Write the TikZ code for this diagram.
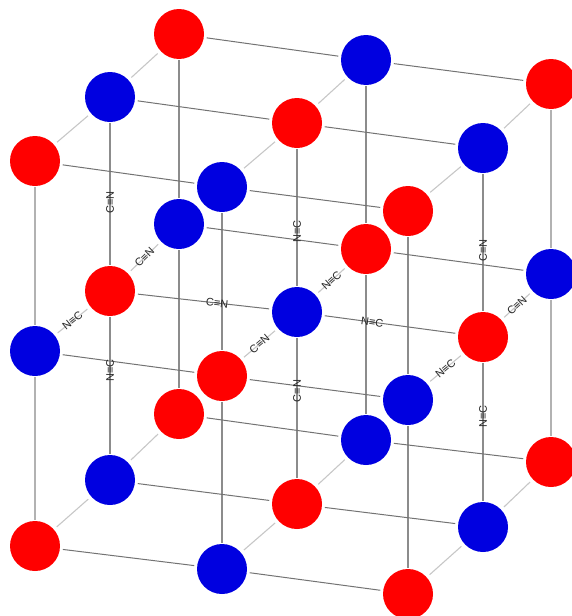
\documentclass[tikz,border=0pt]{standalone}
\usepackage{fontspec}
\setmainfont{Liberation Sans}
\usetikzlibrary{backgrounds}
\definecolor{atomred}{HTML}{FF0000}
\definecolor{atomblue}{HTML}{0000E0}
\tikzset{
  atom/.style={circle,minimum size=50pt,inner sep=0pt,outer sep=0pt},
  redatom/.style={atom,fill=atomred},
  blueatom/.style={atom,fill=atomblue},
  vbond/.style={draw=black!45,line width=1.1pt,shorten >=1pt,shorten <=1pt},
  outerbond/.style={draw=black!30,line width=1.1pt,shorten >=1pt,shorten <=1pt},
  hbond/.style={draw=black!55,line width=1pt,shorten >=3pt,shorten <=3pt},
  dbond/.style={draw=black!22,line width=1.1pt,shorten >=4pt,shorten <=4pt},
  bondlabel/.style={font=\fontsize{11}{11}\selectfont,text=black!85,inner sep=0pt,sloped}
}
\begin{document}
\begin{tikzpicture}[x=1pt,y=-1pt]
\useasboundingbox (0,0) rectangle (571,616);
% back row
\node[redatom]  (n111) at (179,34) {};
\node[blueatom] (n112) at (366,60) {};
\node[redatom]  (n113) at (551,84) {};
\node[blueatom] (n211) at (179,224) {};
\node[redatom]  (n212) at (366,249) {};
\node[blueatom] (n213) at (551,274) {};
\node[redatom]  (n311) at (179,414) {};
\node[blueatom] (n312) at (366,440) {};
\node[redatom]  (n313) at (551,462) {};
% middle row
\node[blueatom] (n121) at (110,97) {};
\node[redatom]  (n122) at (297,123) {};
\node[blueatom] (n123) at (483,148) {};
\node[redatom]  (n221) at (110,291) {};
\node[blueatom] (n222) at (297,312) {};
\node[redatom]  (n223) at (483,337) {};
\node[blueatom] (n321) at (110,480) {};
\node[redatom]  (n322) at (297,504) {};
\node[blueatom] (n323) at (483,527) {};
% front row
\node[redatom]  (n131) at (35,161) {};
\node[blueatom] (n132) at (222,187) {};
\node[redatom]  (n133) at (408,211) {};
\node[blueatom] (n231) at (35,351) {};
\node[redatom]  (n232) at (222,376) {};
\node[blueatom] (n233) at (408,400) {};
\node[redatom]  (n331) at (35,546) {};
\node[blueatom] (n332) at (222,569) {};
\node[redatom]  (n333) at (408,594) {};
\begin{scope}[on background layer]
  \foreach \r/\c in {1/1,1/2,2/1,2/2,2/3,3/2,3/3}{
    \path[vbond] (n1\r\c) -- (n2\r\c);
    \path[vbond] (n2\r\c) -- (n3\r\c);
  }
  \foreach \r/\c in {1/3,3/1}{
    \path[outerbond] (n1\r\c) -- (n2\r\c);
    \path[outerbond] (n2\r\c) -- (n3\r\c);
  }
  \foreach \l in {1,2,3}{
    \foreach \r in {1,2,3}{
      \path[hbond] (n\l\r1) -- (n\l\r2);
      \path[hbond] (n\l\r2) -- (n\l\r3);
    }
    \foreach \c in {1,2,3}{
      \path[dbond] (n\l3\c) -- (n\l2\c);
      \path[dbond] (n\l2\c) -- (n\l1\c);
    }
  }
\end{scope}
% labels on the bonds of the central atoms
\path (n221) -- node[bondlabel,pos=.443] (la) {C≡N} (n121);
\path (n321) -- node[bondlabel,pos=.608] (lb) {N≡C} (n221);
\path (n222) -- node[bondlabel,pos=.40]  (lc) {N≡C} (n122);
\path (n322) -- node[bondlabel,pos=.62]  (ld) {C≡N} (n222);
\path (n223) -- node[bondlabel,pos=.444] (le) {C≡N} (n123);
\path (n323) -- node[bondlabel,pos=.61]  (lf) {N≡C} (n223);
\path (n221) -- node[bondlabel,pos=.6]   (lg) {C≡N} (n222);
\path (n222) -- node[bondlabel,pos=.37]  (lh) {N≡C} (n223);
\path (n231) -- node[bondlabel,pos=.5]   (li) {N≡C} (n221);
\path (n221) -- node[bondlabel,pos=.5]   (lj) {C≡N} (n211);
\path (n232) -- node[bondlabel,pos=.5]   (lk) {C≡N} (n222);
\path (n222) -- node[bondlabel,pos=.5]   (ll) {N≡C} (n212);
\path (n233) -- node[bondlabel,pos=.5]   (lm) {N≡C} (n223);
\path (n223) -- node[bondlabel,pos=.5]   (ln) {C≡N} (n213);
\end{tikzpicture}
\end{document}
